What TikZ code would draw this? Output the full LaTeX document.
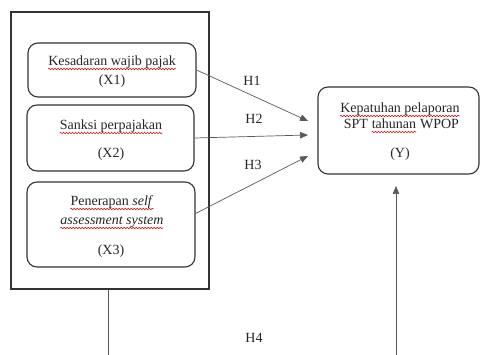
\documentclass[tikz,border=0pt]{standalone}
\usepackage{fontspec}
\setmainfont{Liberation Serif}
\usepackage{xcolor}
\usetikzlibrary{arrows.meta}
\usetikzlibrary{decorations.pathmorphing}

\begin{document}
\begin{tikzpicture}[x=1pt, y=-1pt]
\tikzset{
  base/.style={draw=black!80},
  var/.style={base, rounded corners=10pt, line width=1.1pt},
  txt/.style={inner sep=0pt, anchor=base, text=black!85, font=\fontsize{14}{16}\selectfont},
  hl/.style={->, >={Triangle[length=8pt, width=6.5pt]}, draw=black!65, line width=0.7pt},
  wave/.style={draw=red!80!black, line width=0.5pt, decorate, decoration={snake, amplitude=0.8pt, segment length=3pt}},
}
\useasboundingbox (0,0) rectangle (480,355);

\node[base, line width=1.4pt, minimum width=198pt, minimum height=277pt] (frame) at (110,150.5) {};

\node[var, minimum width=168pt, minimum height=54pt] (x1) at (112,70) {};
\node[var, minimum width=167pt, minimum height=66pt] (x2) at (110.5,138) {};
\node[var, minimum width=168pt, minimum height=85pt] (x3) at (111,224.5) {};
\node[var, minimum width=161pt, minimum height=87pt] (y) at (398.5,130.5) {};

\node[txt] (x1a) at (112,66) {Kesadaran wajib pajak};
\node[txt] (x1b) at (112,85) {(X1)};
\node[txt] (x2a) at (111,130) {Sanksi perpajakan};
\node[txt] (x2b) at (111,158) {(X2)};
\node[txt] (x3a) at (112,206) {Penerapan \textit{self}};
\node[txt] (x3b) at (112,225) {\textit{assessment system}};
\node[txt] (x3c) at (111,255) {(X3)};
\node[txt] (ya) at (400,113) {Kepatuhan pelaporan};
\node[txt] (yb) at (394,129) {tahunan};
\node[txt, anchor=base east] (yspt) at ([xshift=-3.5pt]yb.base west) {SPT};
\node[txt, anchor=base west] (ywp) at ([xshift=3.5pt]yb.base east) {WPOP};
\node[txt] (yc) at (400,158) {(Y)};

\foreach \w in {x1a, x2a, x3a, x3b, ya, yb}
  \draw[wave] ([yshift=-3pt]\w.base west) -- ([yshift=-3pt]\w.base east);

\coordinate (t1) at (308,121);
\coordinate (t2) at (308,135);
\coordinate (t3) at (308,156);
\coordinate (bl) at (108,355);
\coordinate (br) at (396,355);
\coordinate (tip) at (396,186);

\draw[hl] (x1.east) -- (t1);
\draw[hl] (x2.east) -- (t2);
\draw[hl] ([yshift=11pt]x3.east) -- (t3);
\draw[draw=black!65, line width=0.7pt] (frame.south -| bl) -- (bl);
\draw[hl] (br) -- (tip);

\node[txt] (h1) at (252,86) {H1};
\node[txt] (h2) at (254,124) {H2};
\node[txt] (h3) at (253,170) {H3};
\node[txt] (h4) at (254,343) {H4};
\end{tikzpicture}
\end{document}
